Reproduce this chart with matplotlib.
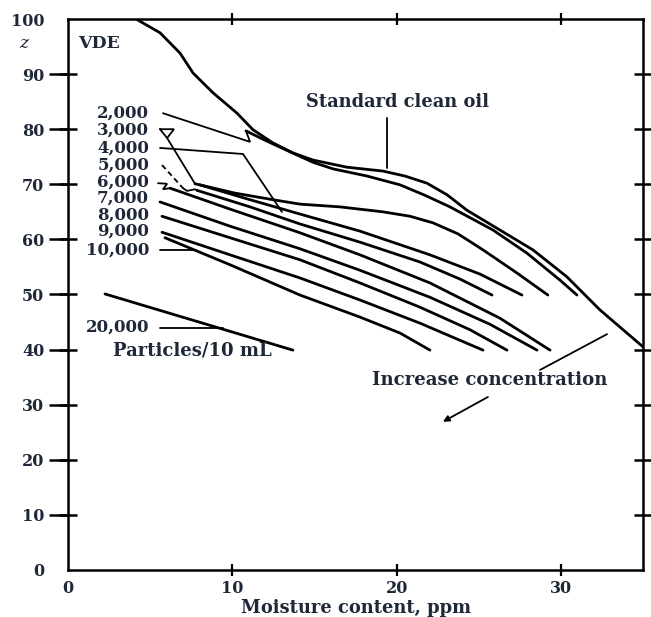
import matplotlib
matplotlib.use('Agg')
import matplotlib.pyplot as plt
from matplotlib.ticker import FixedLocator

# ---------------- data ----------------
clean_x = [4.14, 5.60, 6.82, 7.61, 8.83, 10.29, 11.26, 12.48, 13.69, 14.91, 16.98,
           19.17, 20.51, 21.85, 23.07, 24.28, 26.29, 28.30, 30.37, 32.38, 35.0]
clean_y = [100.0, 97.5, 93.8, 90.2, 86.6, 82.9, 79.9, 77.5, 75.7, 74.4, 73.1,
           72.4, 71.5, 70.2, 68.1, 65.3, 61.7, 58.1, 53.2, 47.2, 40.5]

c2000_x = [10.83, 11.99, 13.51, 14.91, 16.13, 18.20, 20.21, 21.73, 23.25, 25.87,
           27.94, 29.95, 30.98]
c2000_y = [79.7, 78.0, 75.9, 74.0, 72.8, 71.5, 69.9, 68.0, 65.9, 61.7,
           57.5, 52.6, 49.9]
c3000_x = [7.73, 10.16, 12.48, 14.12, 16.56, 19.17, 20.82, 22.22, 23.74, 25.26,
           27.33, 29.21]
c3000_y = [70.1, 68.4, 67.2, 66.4, 65.9, 65.0, 64.2, 63.0, 61.0, 58.1,
           53.9, 49.9]
c4000_x = [8.03, 11.08, 14.12, 17.77, 22.03, 25.08, 27.63]
c4000_y = [69.9, 67.2, 64.6, 61.5, 57.2, 53.7, 49.9]
c5000_x = [7.85, 11.08, 14.12, 17.77, 21.42, 23.86, 25.81]
c5000_y = [68.9, 65.9, 62.8, 59.5, 55.9, 52.8, 49.9]
c6000_x = [6.21, 9.86, 14.12, 17.77, 22.03, 26.29, 29.34]
c6000_y = [69.3, 65.5, 61.2, 57.2, 52.1, 45.7, 39.9]
c7000_x = [5.60, 9.86, 14.12, 17.77, 22.03, 25.68, 28.55]
c7000_y = [66.8, 62.4, 58.3, 54.4, 49.5, 44.6, 39.9]
c8000_x = [5.72, 9.86, 14.12, 17.77, 21.42, 24.47, 26.72]
c8000_y = [64.2, 60.3, 56.3, 52.1, 47.7, 43.6, 39.9]
c9000_x = [5.72, 9.86, 14.12, 17.77, 21.42, 25.26]
c9000_y = [61.3, 57.2, 53.0, 49.0, 44.8, 39.9]
c10000_x = [5.90, 9.86, 14.12, 17.77, 20.21, 22.03]
c10000_y = [60.3, 55.4, 49.9, 45.9, 43.0, 39.9]
c20000_x = [2.25, 13.69]
c20000_y = [50.1, 39.9]

# leader lines / marks
lead2_x, lead2_y = [5.78, 11.08, 10.83], [82.9, 77.7, 79.7]
tri3_x, tri3_y = [5.60, 6.45, 6.03, 5.60], [80.0, 80.0, 78.4, 80.0]
lead3_x, lead3_y = [6.03, 7.73], [78.4, 70.1]
lead4_x, lead4_y = [5.60, 10.65, 13.02], [76.6, 75.5, 65.0]
lead5_x, lead5_y = [5.72, 7.00], [73.5, 69.3]
hook5_x, hook5_y = [7.00, 7.24, 7.73, 7.85], [69.3, 68.8, 69.1, 68.9]
hook6_x, hook6_y = [5.48, 6.03, 5.78, 6.21], [70.2, 70.1, 69.1, 69.3]
lead10_x, lead10_y = [5.60, 7.61], [58.1, 58.1]
lead20_x, lead20_y = [5.60, 9.43], [43.9, 43.9]
clean_lead_x, clean_lead_y = [19.42, 19.42], [82.0, 73.0]
incr_up_x, incr_up_y = [32.81, 28.73], [42.8, 36.3]
incr_dn_start, incr_dn_end = (25.56, 31.4), (22.82, 26.9)

conc_labels = ["2,000", "3,000", "4,000", "5,000", "6,000", "7,000", "8,000",
               "9,000", "10,000", "20,000"]
conc_label_y = [82.9, 79.9, 76.6, 73.5, 70.4, 67.5, 64.4, 61.5, 58.1, 44.1]

x_ticks = [0, 10, 20, 30]
y_ticks = [0, 10, 20, 30, 40, 50, 60, 70, 80, 90, 100]

# ---------------- drawing ----------------
TXT = '#1f2838'
FONT = 'DejaVu Serif'
plt.rcParams['font.family'] = [FONT, 'DejaVu Sans']

fig = plt.figure(figsize=(6.51, 6.17), dpi=100)
ax = fig.add_axes([0.1045, 0.0762, 0.8832, 0.893])
ax.set_xlim(0, 35)
ax.set_ylim(0, 100)

thick = dict(color='black', lw=2.0, solid_capstyle='round', solid_joinstyle='round')
thin = dict(color='black', lw=1.3, solid_capstyle='round', solid_joinstyle='miter')

ax.plot(clean_x, clean_y, **thick)
for cx, cy in [(c2000_x, c2000_y), (c3000_x, c3000_y), (c4000_x, c4000_y),
               (c5000_x, c5000_y), (c6000_x, c6000_y), (c7000_x, c7000_y),
               (c8000_x, c8000_y), (c9000_x, c9000_y), (c10000_x, c10000_y),
               (c20000_x, c20000_y)]:
    ax.plot(cx, cy, **thick)

for lx, ly in [(lead2_x, lead2_y), (tri3_x, tri3_y), (lead3_x, lead3_y),
               (lead4_x, lead4_y), (hook5_x, hook5_y), (hook6_x, hook6_y),
               (lead10_x, lead10_y), (lead20_x, lead20_y),
               (clean_lead_x, clean_lead_y), (incr_up_x, incr_up_y)]:
    ax.plot(lx, ly, **thin)
ax.plot(lead5_x, lead5_y, color='black', lw=1.3, linestyle=(0, (3, 2)))
ax.annotate('', xy=incr_dn_end, xytext=incr_dn_start,
            arrowprops=dict(arrowstyle='-|>', color='black', lw=1.3,
                            mutation_scale=9, shrinkA=0, shrinkB=0))

tkw = dict(fontfamily=FONT, fontweight='bold', color=TXT)
for lab, yy in zip(conc_labels, conc_label_y):
    ax.text(4.93, yy, lab, ha='right', va='center', fontsize=12, **tkw)

ax.text(14.5, 84.9, 'Standard clean oil', ha='left', va='center', fontsize=12.9, **tkw)
ax.text(0.6, 95.6, 'VDE', ha='left', va='center', fontsize=12.5, **tkw)
ax.text(-2.68, 95.6, 'z', ha='center', va='center', fontsize=12.5,
        fontstyle='italic', fontfamily=FONT, color=TXT)
ax.text(2.74, 39.9, 'Particles/10 mL', ha='left', va='center', fontsize=13, **tkw)
ax.text(18.5, 34.5, 'Increase concentration', ha='left', va='center', fontsize=13.1, **tkw)

# axes styling
for s in ax.spines.values():
    s.set_linewidth(1.8)
    s.set_color('black')

ax.xaxis.set_major_locator(FixedLocator(x_ticks))
ax.yaxis.set_major_locator(FixedLocator(y_ticks))
ax.set_xticklabels([str(v) for v in x_ticks])
ax.set_yticklabels([str(v) for v in y_ticks])
ax.tick_params(axis='y', which='major', direction='out', length=14, width=1.8,
               pad=3, labelsize=11.5, labelcolor=TXT, left=True, right=False)
ax.tick_params(axis='x', which='major', direction='inout', length=9, width=1.6,
               pad=3, labelsize=11.5, labelcolor=TXT, bottom=True, top=True)
for lab in ax.get_xticklabels() + ax.get_yticklabels():
    lab.set_fontweight('bold')
    lab.set_fontfamily(FONT)

# inner part of left ticks and right-side ticks
ax.yaxis.remove_overlapping_locs = False
ax.yaxis.set_minor_locator(FixedLocator(y_ticks[1:-1]))
ax.tick_params(axis='y', which='minor', direction='inout', length=13, width=1.8,
               left=True, right=True)
# hide the major tick marks at the corners (0 and 100)
yt = ax.yaxis.get_major_ticks()
yt[0].tick1line.set_visible(False)
yt[-1].tick1line.set_visible(False)
xt = ax.xaxis.get_major_ticks()
xt[0].tick1line.set_visible(False)
xt[0].tick2line.set_visible(False)

ax.set_xlabel('Moisture content, ppm', fontsize=12.9, fontweight='bold',
              fontfamily=FONT, color=TXT, labelpad=1)

fig.savefig('out.png', dpi=100, facecolor='white')
